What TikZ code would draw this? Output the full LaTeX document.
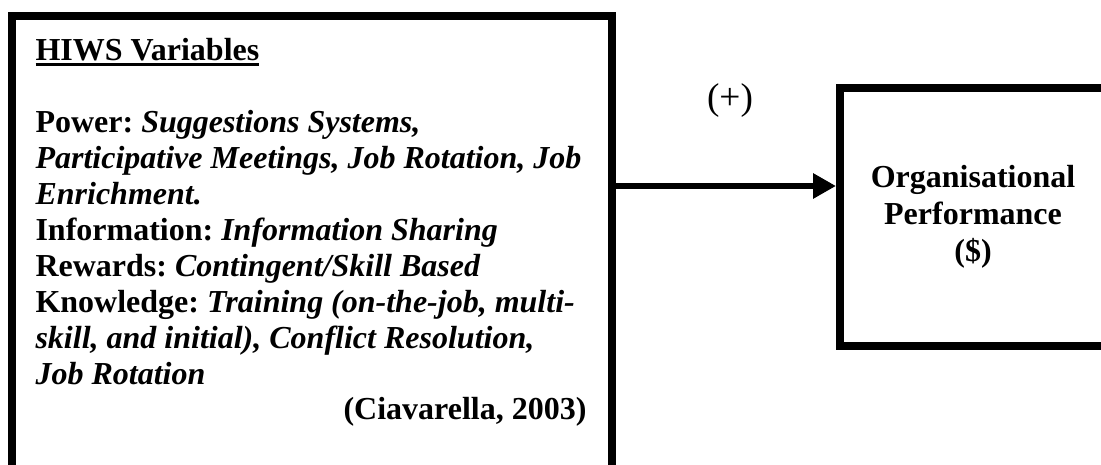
\documentclass[tikz,border=0pt]{standalone}
\usepackage{fontspec}
\setmainfont{Liberation Serif}
\usepackage{tikz}
\usetikzlibrary{arrows.meta,positioning}
\frenchspacing

\newcommand{\thickul}[1]{\setbox0\hbox{#1}\rlap{\rule[-1.9pt]{\wd0}{1.1pt}}\box0}

\tikzset{
  varbox/.style={draw, line width=3pt, outer sep=0pt, inner sep=0pt},
  link/.style={line width=2.6pt, -{Triangle[length=8.6pt,width=9pt]}, shorten >=1.5pt}
}

\begin{document}
\begin{tikzpicture}[x=0.375pt, y=-0.375pt]
\useasboundingbox (0,0) rectangle (1101,465);
\clip (0,0) rectangle (1101,465);
% boxes
\node[varbox, minimum width=225pt, minimum height=189pt, anchor=north west] (hiws) at (12,16) {};
\node[varbox, minimum width=99.75pt, minimum height=96.75pt, align=center,
      font=\fontsize{12}{13.9}\selectfont\bfseries] (perf) at (973,217)
      {Organisational\\Performance\\(\$)};
% text of the left box
\node[anchor=north west, inner sep=0pt, text width=240pt, align=flush left,
      font=\fontsize{12}{13.5}\selectfont\bfseries] (vars) at (35,38)
{\thickul{HIWS Variables}\\[13.5pt]
Power: \textit{Suggestions Systems,}\\
\textit{Participative Meetings, Job Rotation, Job}\\
\textit{Enrichment.}\\
Information: \textit{Information Sharing}\\
Rewards: \textit{Contingent/Skill Based}\\
Knowledge: \textit{Training (on-the-job, multi-}\\
\textit{skill, and initial), Conflict Resolution,}\\
\textit{Job Rotation}};
\node[anchor=base east, inner sep=0pt, font=\fontsize{12}{13.5}\selectfont\bfseries] (cite) at (587,420) {(Ciavarella, 2003)};
% arrow
\coordinate (tap) at (612,186);
\draw[link] (tap) -- (tap -| perf.west);
\node[font=\fontsize{14}{16}\selectfont] (sign) at (730,101) {(+)};
\end{tikzpicture}
\end{document}
